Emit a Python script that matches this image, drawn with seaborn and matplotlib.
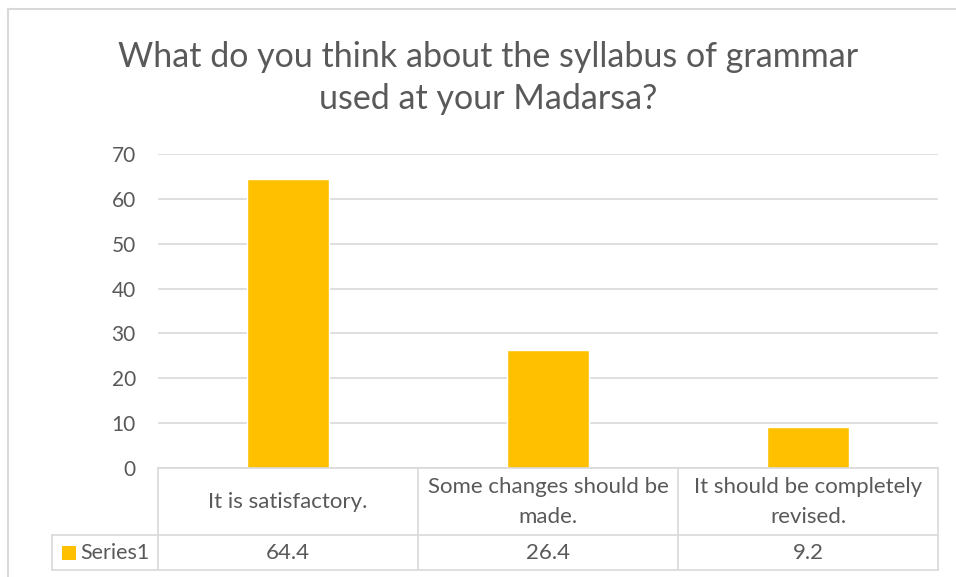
import matplotlib
matplotlib.use("Agg")
import matplotlib.pyplot as plt
import seaborn as sns
import pandas as pd
from matplotlib.lines import Line2D
from matplotlib.patches import Rectangle

# chart data
categories = ["It is satisfactory.", "Some changes should be made.", "It should be completely revised."]
header_labels = ["It is satisfactory.", "Some changes should be\nmade.", "It should be completely\nrevised."]
values = [64.4, 26.4, 9.2]
series_name = "Series1"
title = "What do you think about the syllabus of grammar\nused at your Madarsa?"
y_ticks = [0, 10, 20, 30, 40, 50, 60, 70]

BAR = "#FFC000"
TXT = "#595959"
GRID = "#D9D9D9"
W, H = 956, 577

sns.set_theme(style="white")
plt.rcParams["font.family"] = ["Lato", "DejaVu Sans"]

fig = plt.figure(figsize=(W / 100, H / 100), dpi=100)


def fx(px):
    return px / W


def fy(py):
    return 1 - py / H


# plot area in pixels: x 158..938, y 154..468
ax = fig.add_axes([fx(158), fy(468), fx(938) - fx(158), fy(154) - fy(468)])
df = pd.DataFrame({"cat": categories, "val": values})
sns.barplot(data=df, x="cat", y="val", color=BAR, width=0.315, saturation=1, ax=ax)
ax.set_ylim(0, 70)
ax.set_xlim(-0.5, 2.5)
ax.set_yticks(y_ticks)
ax.set_yticklabels([str(t) for t in y_ticks], color=TXT, fontsize=15)
ax.tick_params(axis="y", length=0, pad=16)
ax.set_xticks([])
ax.set_xlabel("")
ax.set_ylabel("")
for s in ax.spines.values():
    s.set_visible(False)
ax.yaxis.grid(True, color=GRID, linewidth=1.2)
ax.set_axisbelow(True)

# outer chart border
fig.add_artist(Line2D([fx(8), fx(8)], [fy(9), fy(577)], color=GRID, lw=1.5))
fig.add_artist(Line2D([fx(8), fx(956)], [fy(9), fy(9)], color=GRID, lw=1.5))

# title
fig.text(fx(488), fy(78), title, ha="center", va="center", fontsize=24.5,
         color=TXT, linespacing=1.38)

# data table
col_edges = [158, 418, 678, 938]
hline = dict(color=GRID, lw=1.2)
fig.add_artist(Line2D([fx(158), fx(938)], [fy(468), fy(468)], **hline))
fig.add_artist(Line2D([fx(52), fx(938)], [fy(535), fy(535)], **hline))
fig.add_artist(Line2D([fx(52), fx(938)], [fy(570), fy(570)], **hline))
fig.add_artist(Line2D([fx(52), fx(52)], [fy(535), fy(570)], **hline))
for x in col_edges:
    fig.add_artist(Line2D([fx(x), fx(x)], [fy(468), fy(570)], **hline))

for i, (lab, v) in enumerate(zip(header_labels, values)):
    cx = (col_edges[i] + col_edges[i + 1]) / 2
    fig.text(fx(cx), fy(502), lab, ha="center", va="center", fontsize=16,
             color=TXT, linespacing=1.6)
    fig.text(fx(cx), fy(553), f"{v}", ha="center", va="center", fontsize=16,
             color=TXT)

fig.add_artist(Rectangle((fx(62), fy(560)), fx(14), fy(546) - fy(560),
                         facecolor=BAR, edgecolor="none"))
fig.text(fx(80), fy(553), series_name, ha="left", va="center", fontsize=15.5,
         color=TXT)

fig.savefig("out.png", dpi=100, facecolor="white")
